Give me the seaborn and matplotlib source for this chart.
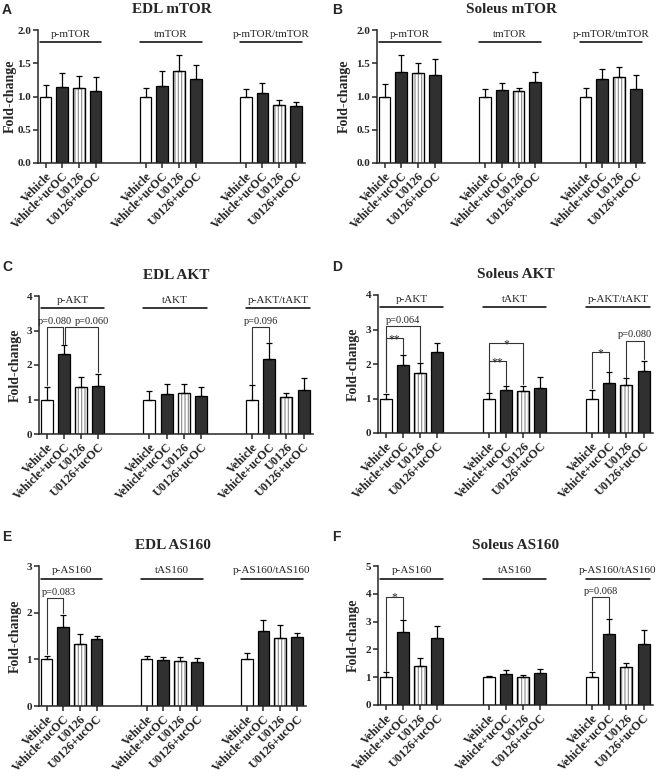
import matplotlib
matplotlib.use('Agg')
import matplotlib.pyplot as plt
import seaborn as sns
import numpy as np
import pandas as pd
from matplotlib.patches import Rectangle

treatments = ['Vehicle', 'Vehicle+ucOC', 'U0126', 'U0126+ucOC']

# ---- Panel A: EDL mTOR
a_title = 'EDL mTOR'
a_groups = ['p-mTOR', 'tmTOR', 'p-mTOR/tmTOR']
a_mean = [[1.00, 1.15, 1.13, 1.09], [1.00, 1.16, 1.38, 1.27], [1.00, 1.06, 0.87, 0.86]]
a_sem = [[0.17, 0.20, 0.18, 0.21], [0.13, 0.23, 0.24, 0.20], [0.11, 0.14, 0.07, 0.06]]
a_yticks = [0.0, 0.5, 1.0, 1.5, 2.0]
a_marks = []

# ---- Panel B: Soleus mTOR
b_title = 'Soleus mTOR'
b_groups = ['p-mTOR', 'tmTOR', 'p-mTOR/tmTOR']
b_mean = [[1.00, 1.37, 1.36, 1.32], [1.00, 1.10, 1.09, 1.22], [1.00, 1.26, 1.29, 1.12]]
b_sem = [[0.19, 0.26, 0.15, 0.25], [0.12, 0.10, 0.04, 0.15], [0.13, 0.16, 0.16, 0.20]]
b_yticks = [0.0, 0.5, 1.0, 1.5, 2.0]
b_marks = []

# ---- Panel C: EDL AKT
c_title = 'EDL AKT'
c_groups = ['p-AKT', 'tAKT', 'p-AKT/tAKT']
c_mean = [[1.00, 2.31, 1.35, 1.38], [1.00, 1.15, 1.19, 1.11], [1.00, 2.18, 1.06, 1.28]]
c_sem = [[0.37, 0.27, 0.30, 0.37], [0.26, 0.29, 0.25, 0.24], [0.41, 0.45, 0.14, 0.34]]
c_yticks = [0, 1, 2, 3, 4]
# (group, bar_from, bar_to, bracket height, label, label x within group or None)
c_marks = [(0, 0, 0.93, 3.09, 'p=0.080', 0.5),
           (0, 1.07, 3, 3.09, 'p=0.060', 2.66),
           (2, 0, 1, 3.10, 'p=0.096', None)]

# ---- Panel D: Soleus AKT
d_title = 'Soleus AKT'
d_groups = ['p-AKT', 'tAKT', 'p-AKT/tAKT']
d_mean = [[1.00, 1.96, 1.75, 2.36], [1.00, 1.24, 1.21, 1.31], [1.00, 1.46, 1.40, 1.80]]
d_sem = [[0.14, 0.29, 0.27, 0.25], [0.15, 0.11, 0.16, 0.30], [0.25, 0.31, 0.19, 0.30]]
d_yticks = [0, 1, 2, 3, 4]
d_marks = [(0, 0, 1, 2.75, '**', None),
           (0, 0, 2, 3.09, 'p=0.064', None),
           (1, 0, 1, 2.09, '**', None),
           (1, 0, 2, 2.61, '*', None),
           (2, 0, 1, 2.34, '*', None),
           (2, 2, 3, 2.67, 'p=0.080', None)]

# ---- Panel E: EDL AS160
e_title = 'EDL AS160'
e_groups = ['p-AS160', 'tAS160', 'p-AS160/tAS160']
e_mean = [[1.00, 1.69, 1.33, 1.43], [1.00, 0.99, 0.96, 0.94], [1.00, 1.61, 1.46, 1.48]]
e_sem = [[0.08, 0.27, 0.22, 0.07], [0.07, 0.07, 0.10, 0.08], [0.13, 0.23, 0.28, 0.09]]
e_yticks = [0, 1, 2, 3]
e_marks = [(0, 0, 1, 2.31, 'p=0.083', 0.75)]

# ---- Panel F: Soleus AS160
f_title = 'Soleus AS160'
f_groups = ['p-AS160', 'tAS160', 'p-AS160/tAS160']
f_mean = [[1.00, 2.64, 1.39, 2.40], [1.00, 1.10, 1.00, 1.15], [1.00, 2.56, 1.35, 2.19]]
f_sem = [[0.18, 0.40, 0.29, 0.44], [0.03, 0.15, 0.09, 0.13], [0.20, 0.53, 0.15, 0.49]]
f_yticks = [0, 1, 2, 3, 4, 5]
f_marks = [(0, 0, 1, 3.90, '*', None),
           (2, 0, 1, 3.88, 'p=0.068', None)]

DARK = '#303030'
STRIPE = '#8a8a8a'

sns.set_style('ticks')
plt.rcParams['font.family'] = 'serif'
plt.rcParams['font.serif'] = ['Liberation Serif', 'DejaVu Serif']
plt.rcParams['hatch.linewidth'] = 0.8

W, H = 661, 776
fig = plt.figure(figsize=(W / 100, H / 100), dpi=100)


def add_axes_px(l, t, r, b):
    return fig.add_axes([l / W, 1 - b / H, (r - l) / W, (b - t) / H])


def draw_panel(ax, title, groups, means, sems, yticks, yfmt, marks, label_off):
    rows = []
    for g, grp in enumerate(groups):
        for i, t in enumerate(treatments):
            rows.append(dict(pos=g * 6 + i, treatment=t, group=grp,
                             value=means[g][i], sem=sems[g][i]))
    df = pd.DataFrame(rows)
    pal = dict(zip(treatments, ['white', DARK, 'white', DARK]))
    sns.barplot(data=df, x='pos', y='value', hue='treatment', hue_order=treatments,
                palette=pal, native_scale=True, dodge=False, width=0.7, saturation=1,
                errorbar=None, legend=False, edgecolor='black', linewidth=0.9,
                ax=ax, zorder=2)
    for p in list(ax.patches):
        cx = p.get_x() + p.get_width() / 2
        k = int(round(cx)) % 6
        if k < 4 and treatments[k] == 'U0126':
            p.set_edgecolor(STRIPE)
            p.set_hatch('|||||')
            ax.add_patch(Rectangle(p.get_xy(), p.get_width(), p.get_height(), fill=False,
                                   edgecolor='black', linewidth=0.9, zorder=2.2))
    ax.errorbar(df['pos'], df['value'], yerr=[np.zeros(len(df)), df['sem']], fmt='none',
                ecolor='black', elinewidth=0.9, capsize=2.5, capthick=0.9, zorder=3)

    ymax = yticks[-1]
    ax.set_ylim(0, ymax)
    ax.set_xlim(-0.45, 15.55)
    ax.set_yticks(yticks)
    ax.set_yticklabels([yfmt.format(v) for v in yticks], fontweight='bold')
    ax.set_xticks(df['pos'])
    ax.set_xticklabels(df['treatment'], rotation=45, ha='right', va='top',
                       rotation_mode='anchor', fontweight='bold', fontsize=8.7)
    ax.set_xlabel('')
    ax.set_ylabel('Fold-change', fontweight='bold', fontsize=10)
    bbox = ax.get_position()
    ax.yaxis.set_label_coords(-label_off / (bbox.width * W), 0.5)
    ax.tick_params(axis='both', direction='out', length=3.5, width=1.1, pad=1.5)
    ax.tick_params(axis='y', labelsize=8)
    sns.despine(ax=ax)
    for s in ('left', 'bottom'):
        ax.spines[s].set_linewidth(1.1)
    ax.set_title(title, fontweight='bold', fontsize=11, pad=12)

    for g, grp in enumerate(groups):
        ax.plot([g * 6 - 0.35, g * 6 + 3.35], [ymax * 0.91] * 2, color='black', lw=1.1,
                clip_on=False, zorder=4)
        ax.text(g * 6 + 1.5, ymax * 0.965, grp, ha='center', va='center', fontsize=8)

    for g, i, j, h, lab, tx in marks:
        xi, xj = g * 6 + i, g * 6 + j
        ri, rj = int(round(i)), int(round(j))
        yi = means[g][ri] + sems[g][ri] + 0.01 * ymax
        yj = means[g][rj] + sems[g][rj] + 0.01 * ymax
        ax.plot([xi, xi, xj, xj], [yi, h, h, yj], color='#333333', lw=0.8, zorder=4)
        xt = g * 6 + (tx if tx is not None else (i + j) / 2)
        if lab.startswith('p'):
            ax.annotate(lab, xy=(xt, h), xytext=(0, 2.5), textcoords='offset points',
                        ha='center', va='baseline', fontsize=7.5)
        else:
            ax.annotate(lab, xy=(xt, h), xytext=(0, -3), textcoords='offset points',
                        ha='center', va='baseline', fontsize=8.5)


axA = add_axes_px(38, 30, 305, 163)
axB = add_axes_px(377, 30, 645, 163)
axC = add_axes_px(39, 296, 313, 434)
axD = add_axes_px(378, 295, 653, 433)
axE = add_axes_px(39, 566, 306, 706)
axF = add_axes_px(378, 566, 653, 705)

draw_panel(axA, a_title, a_groups, a_mean, a_sem, a_yticks, '{:.1f}', a_marks, 21)
draw_panel(axB, b_title, b_groups, b_mean, b_sem, b_yticks, '{:.1f}', b_marks, 26)
draw_panel(axC, c_title, c_groups, c_mean, c_sem, c_yticks, '{:d}', c_marks, 17)
draw_panel(axD, d_title, d_groups, d_mean, d_sem, d_yticks, '{:d}', d_marks, 18)
draw_panel(axE, e_title, e_groups, e_mean, e_sem, e_yticks, '{:d}', e_marks, 17)
draw_panel(axF, f_title, f_groups, f_mean, f_sem, f_yticks, '{:d}', f_marks, 18)

for letter, x, y in [('A', 2, 10), ('B', 332, 10), ('C', 2, 267),
                     ('D', 332, 267), ('E', 2, 537), ('F', 332, 537)]:
    fig.text(x / W, 1 - y / H, letter, ha='left', va='center', fontsize=10,
             fontweight='bold', family=['Liberation Sans', 'DejaVu Sans'])

fig.savefig('out.png', dpi=100)
